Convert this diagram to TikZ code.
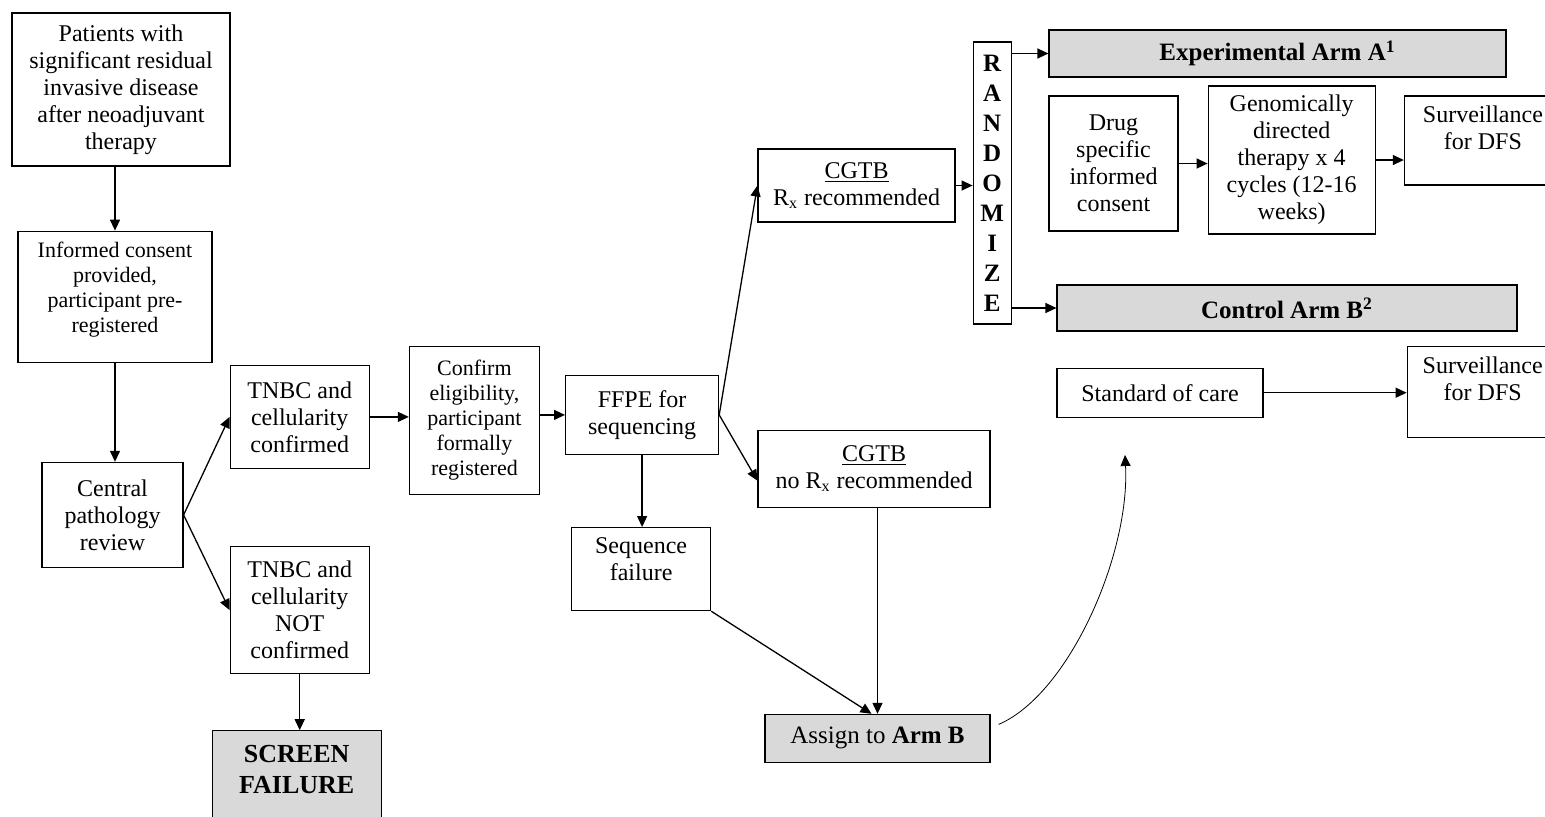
\documentclass[tikz,border=0pt]{standalone}
\usepackage{fontspec}
\setmainfont{Liberation Serif}
\usetikzlibrary{arrows.meta,positioning}
\definecolor{boxgray}{RGB}{217,217,217}
\tikzset{
  box/.style={draw,line width=0.6pt,align=center,inner sep=1pt,
              font=\fontsize{12}{13.5}\selectfont},
  sbox/.style={box,font=\fontsize{11}{12.5}\selectfont},
  gbox/.style={box,fill=boxgray,font=\fontsize{12.5}{15}\selectfont\bfseries},
  toptxt/.style={anchor=north,align=center,inner sep=0pt,
              font=\fontsize{12}{13.5}\selectfont},
  fl/.style={-{Triangle[length=5.5pt,width=5pt]},line width=0.65pt},
}

\begin{document}
\begin{tikzpicture}[x=0.5pt,y=-0.5pt]
  \useasboundingbox (0,0) rectangle (1545,816);
  % --- screening (left column) ---
  \node[box,minimum width=109pt,minimum height=76.5pt] (pat) at (121,89.5)
    {Patients with\\significant residual\\invasive disease\\after neoadjuvant\\therapy};
  \node[box,minimum width=97pt,minimum height=65.5pt,below=32pt of pat,xshift=-3pt,
        label={[toptxt,font=\fontsize{11}{12.5}\selectfont,yshift=-5.5pt]north:Informed consent\\provided,\\participant pre-\\registered}] (inf) {};
  \node[box,minimum width=70.5pt,minimum height=52.5pt,below=49.5pt of inf,xshift=-1.25pt] (cen)
    {Central\\pathology\\review};
  % --- pathology outcome ---
  \node[box,minimum width=69.5pt,minimum height=51.5pt,right=23pt of cen,yshift=49pt] (tnbc)
    {TNBC and\\cellularity\\confirmed};
  \node[box,minimum width=69.5pt,minimum height=63.5pt,below=38.5pt of tnbc] (notc)
    {TNBC and\\cellularity\\NOT\\confirmed};
  \node[gbox,minimum width=84.5pt,minimum height=55pt,below=28pt of notc,xshift=-1.5pt,
        label={[toptxt,font=\fontsize{13}{15.5}\selectfont\bfseries,yshift=-7.2pt]north:SCREEN\\FAILURE}] (scr) {};
  \node[sbox,minimum width=65pt,minimum height=74pt,right=19.5pt of tnbc,yshift=-1.75pt] (conf)
    {Confirm\\eligibility,\\participant\\formally\\registered};
  \node[box,minimum width=76.5pt,minimum height=39.5pt,right=12.5pt of conf,yshift=2.75pt] (ffpe)
    {FFPE for\\sequencing};
  \node[box,minimum width=69.5pt,minimum height=41.5pt,below=36pt of ffpe,xshift=-0.5pt,
        label={[toptxt,yshift=-5.25pt]north:Sequence\\failure}] (seqf) {};
  % --- CGTB result ---
  \node[box,minimum width=98.5pt,minimum height=36.5pt] (cgtb) at (856.5,185.5)
    {\underline{CGTB}\\R\textsubscript{x} recommended};
  \node[box,minimum width=116pt,minimum height=38.5pt,below=103.5pt of cgtb.south west,anchor=north west] (norx)
    {\underline{CGTB}\\no R\textsubscript{x} recommended};
  \node[gbox,font=\fontsize{12.5}{15}\selectfont,minimum width=112.5pt,minimum height=24pt,
        below=103pt of norx,xshift=1.75pt] (asg) {Assign to \textbf{Arm B}};
  % --- randomization and arms ---
  \node[box,font=\fontsize{12.5}{15}\selectfont\bfseries,inner sep=0pt,minimum width=19pt,
        minimum height=141pt,right=8.5pt of cgtb,yshift=1.25pt] (rnd) {R\\A\\N\\D\\O\\M\\I\\Z\\E};
  \node[gbox,minimum width=228.5pt,minimum height=23.5pt] (expA) at (1277.5,53.5)
    {Experimental Arm A\textsuperscript{1}};
  \node[box,minimum width=64.5pt,minimum height=67.5pt] (drug) at (1113.5,163.5)
    {Drug\\specific\\informed\\consent};
  \node[box,minimum width=83.5pt,minimum height=74pt,right=14.5pt of drug,yshift=1.75pt] (gen)
    {Genomically\\directed\\therapy x 4\\cycles (12-16\\weeks)};
  \node[box,minimum width=78.5pt,minimum height=44.5pt,right=14pt of gen,yshift=9.75pt,
        label={[toptxt,yshift=-5pt]north:Surveillance\\for DFS}] (survA) {};
  \node[gbox,minimum width=230pt,minimum height=23pt] (ctrlB) at (1287,308)
    {Control Arm B\textsuperscript{2}};
  \node[box,minimum width=103pt,minimum height=24.5pt,below=18pt of ctrlB.south west,anchor=north west] (soc)
    {Standard of care};
  \node[box,minimum width=75.5pt,minimum height=45.5pt,right=71.5pt of soc,yshift=0.5pt,
        label={[toptxt,yshift=-5.5pt]north:Surveillance\\for DFS}] (survB) {};
  % --- connectors ---
  \draw[fl] (pat.south -| inf.north) -- (inf.north);
  \draw[fl] (inf.south) -- (inf.south |- cen.north);
  \draw[fl] (cen.east) -- (tnbc.west);
  \draw[fl] (cen.east) -- (notc.west);
  \draw[fl] (notc.south) -- (notc.south |- scr.north);
  \draw[fl] (tnbc.east) -- (tnbc.east -| conf.west);
  \draw[fl] (conf.east |- ffpe.west) -- (ffpe.west);
  \draw[fl] (ffpe.east) -- (cgtb.west);
  \draw[fl] (ffpe.east) -- ([yshift=-6pt]norx.west);
  \draw[fl] (ffpe.south) -- (ffpe.south |- seqf.north);
  \draw[fl] (norx.south -| asg.north) -- (asg.north);
  \draw[fl] (seqf.south east) -- ([xshift=-3pt]asg.north);
  \draw[fl] (cgtb.east) -- (cgtb.east -| rnd.west);
  \draw[fl] (expA.west -| rnd.east) -- (expA.west);
  \draw[fl] (ctrlB.west -| rnd.east) -- (ctrlB.west);
  \draw[fl] (drug.east) -- (drug.east -| gen.west);
  \draw[fl] (gen.east) -- (gen.east -| survA.west);
  \draw[fl] (soc.east) -- (soc.east -| survB.west);
  \coordinate (socin) at (1125,455);
  \draw[fl,line width=0.4pt] ([shift={(4pt,7pt)}]asg.east) .. controls +(70,-30) and +(5,100) .. (socin);
\end{tikzpicture}
\end{document}
